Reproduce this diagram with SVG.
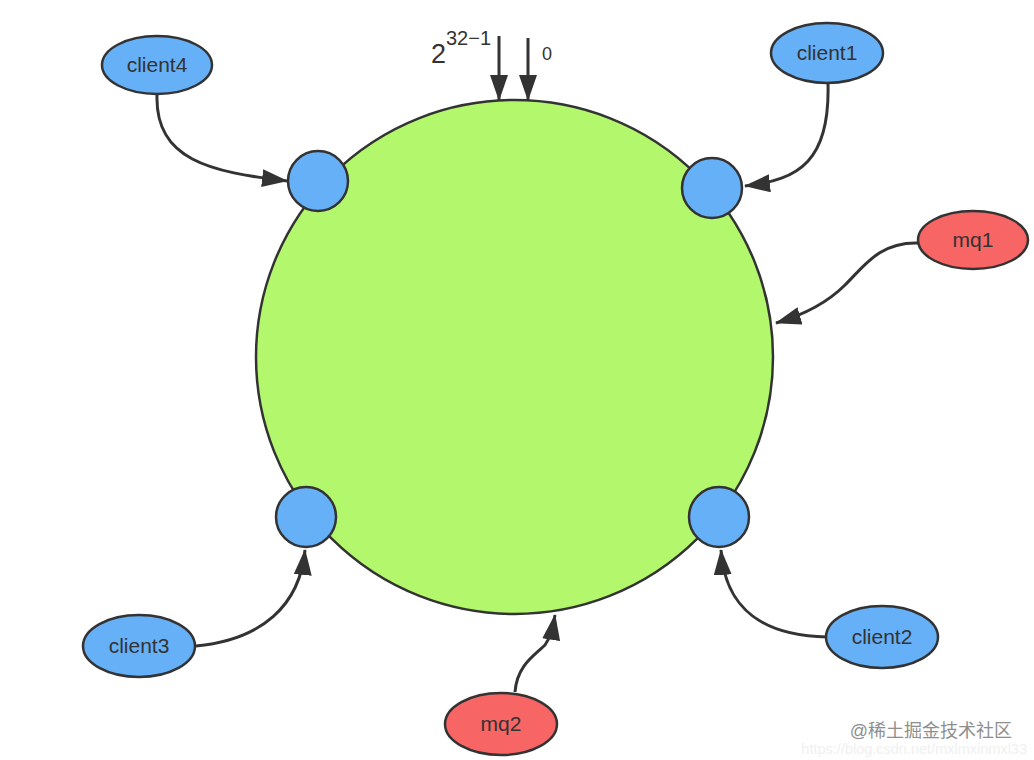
<svg xmlns="http://www.w3.org/2000/svg" width="1034" height="760" viewBox="0 0 1034 760">
  <style>
    .ring { fill: #b3f76c; stroke: #333; stroke-width: 2.5; }
    .vnode { fill: #66b0f7; stroke: #333; stroke-width: 2.5; }
    .client { fill: #66b0f7; stroke: #333; stroke-width: 2.5; }
    .mq { fill: #f76565; stroke: #333; stroke-width: 2.5; }
    .lbl { font-family: "Liberation Sans", Arial, sans-serif; font-size: 21px; fill: #333; text-anchor: middle; }
    .edge { fill: none; stroke: #333; stroke-width: 3; }
    .num { font-family: "Liberation Sans", Arial, sans-serif; fill: #333; }
  </style>
  <defs>
    <marker id="arrow" viewBox="0 0 26 18" refX="25" refY="9" markerWidth="26" markerHeight="18" markerUnits="userSpaceOnUse" orient="auto">
      <path d="M0,0 L26,9 L0,18 z" fill="#333"/>
    </marker>
  </defs>
  <rect width="1034" height="760" fill="#ffffff"/>

  <g id="ring">
    <ellipse class="ring" cx="514.5" cy="357" rx="258.5" ry="257"/>
  </g>

  <g id="vnode-topleft"><circle class="vnode" cx="318" cy="181" r="30"/></g>
  <g id="vnode-topright"><circle class="vnode" cx="712" cy="188" r="30"/></g>
  <g id="vnode-bottomleft"><circle class="vnode" cx="306" cy="517" r="30"/></g>
  <g id="vnode-bottomright"><circle class="vnode" cx="719" cy="517" r="30"/></g>

  <g id="client4">
    <ellipse class="client" cx="157" cy="65" rx="55" ry="29"/>
    <text class="lbl" x="157" y="72">client4</text>
  </g>
  <g id="client1">
    <ellipse class="client" cx="827" cy="53" rx="56" ry="30"/>
    <text class="lbl" x="827" y="60">client1</text>
  </g>
  <g id="mq1">
    <ellipse class="mq" cx="973" cy="240" rx="55" ry="29"/>
    <text class="lbl" x="973" y="247">mq1</text>
  </g>
  <g id="client3">
    <ellipse class="client" cx="139" cy="646" rx="56" ry="31"/>
    <text class="lbl" x="139" y="653">client3</text>
  </g>
  <g id="client2">
    <ellipse class="client" cx="882" cy="637" rx="56" ry="31"/>
    <text class="lbl" x="882" y="644">client2</text>
  </g>
  <g id="mq2">
    <ellipse class="mq" cx="501" cy="724" rx="56" ry="31"/>
    <text class="lbl" x="501" y="731">mq2</text>
  </g>

  <g id="connectors">
    <path class="edge" d="M499,36 L499,100" marker-end="url(#arrow)"/>
    <path class="edge" d="M528,38 L528,100" marker-end="url(#arrow)"/>
    <path class="edge" d="M157,95 C155,160 210,172 287,181" marker-end="url(#arrow)"/>
    <path class="edge" d="M828,84 C830,160 800,180 745,186" marker-end="url(#arrow)"/>
    <path class="edge" d="M918,243 C880,242 865,265 845,285 C825,305 800,316 776,323" marker-end="url(#arrow)"/>
    <path class="edge" d="M196,646 C262,640 300,605 305,550" marker-end="url(#arrow)"/>
    <path class="edge" d="M827,637 C765,636 725,610 721,550" marker-end="url(#arrow)"/>
    <path class="edge" d="M515,692 C517,665 535,655 545,645 C550,638 553,628 555,615" marker-end="url(#arrow)"/>
  </g>

  <g id="labels">
    <text class="num" x="431" y="63" font-size="27">2</text>
    <text class="num" x="446" y="45" font-size="20">32−1</text>
    <text class="num" x="542" y="60" font-size="18">0</text>
  </g>

  <g id="watermark">
    <text x="1012" y="737" text-anchor="end" font-family="'Liberation Sans', 'Noto Sans CJK SC', sans-serif" font-size="18" fill="#8e8e8e">@稀土掘金技术社区</text>
    <text x="1027" y="754" text-anchor="end" font-family="'Liberation Sans', Arial, sans-serif" font-size="14.5" fill="#f0f0f0">https://blog.csdn.net/mxlmxinmxl33</text>
  </g>
</svg>
